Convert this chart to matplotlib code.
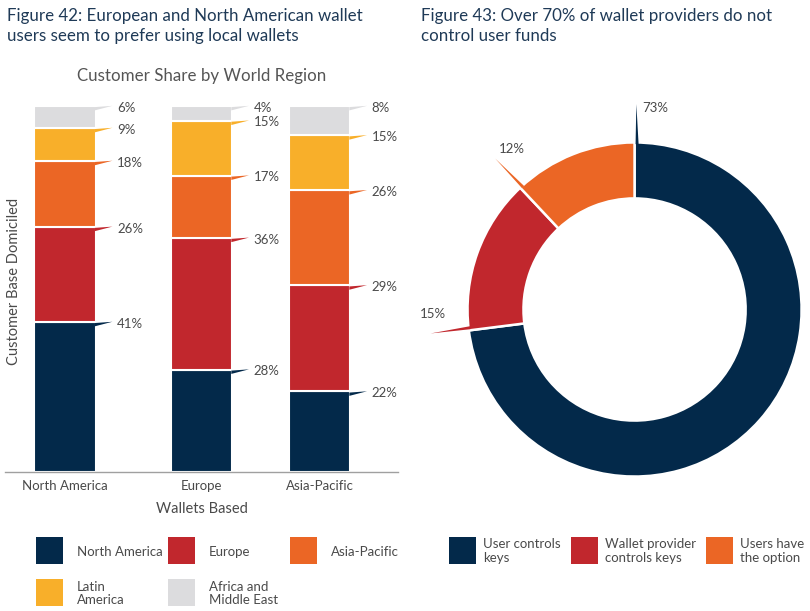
import numpy as np
import matplotlib
matplotlib.use("Agg")
import matplotlib.pyplot as plt
from matplotlib.patches import Rectangle, Polygon

plt.rcParams['font.family'] = ['Lato', 'DejaVu Sans']

# ---- data ----
wallet_regions = ['North America', 'Europe', 'Asia-Pacific']
domicile_names = ['North America', 'Europe', 'Asia-Pacific', 'Latin\nAmerica', 'Africa and\nMiddle East']
north_america = [41, 28, 22]
europe = [26, 36, 29]
asia_pacific = [18, 17, 26]
latin_america = [9, 15, 15]
africa_me = [6, 4, 8]

control_labels = ['User controls\nkeys', 'Wallet provider\ncontrols keys', 'Users have\nthe option']
control_share = [73, 15, 12]

NAVY = '#03294A'
RED = '#C1272D'
ORANGE = '#EB6625'
YELLOW = '#F8AF2A'
GREY = '#DCDCDE'
TXT = '#4A4A4A'
TITLE = '#1F3A57'

W, H = 810, 611
fig = plt.figure(figsize=(W / 100, H / 100), dpi=100)


def fx(px):
    return px / W


def fy(py):
    return 1 - py / H


# titles
fig.text(fx(7), fy(26), 'Figure 42: European and North American wallet\nusers seem to prefer using local wallets',
         fontsize=12.2, color=TITLE, ha='left', va='center', linespacing=1.38)
fig.text(fx(421), fy(26), 'Figure 43: Over 70% of wallet providers do not\ncontrol user funds',
         fontsize=12.2, color=TITLE, ha='left', va='center', linespacing=1.38)

# ---- stacked bars ----
ax = fig.add_axes([fx(5), 139 / H, 393 / W, 366 / H])
series = [north_america, europe, asia_pacific, latin_america, africa_me]
colors = [NAVY, RED, ORANGE, YELLOW, GREY]
xpos = np.array([0, 1.157, 2.157])
bw = 0.525
bottom = np.zeros(3)
for vals, col in zip(series, colors):
    vals = np.array(vals, dtype=float)
    ax.bar(xpos, vals, bw, bottom=bottom, color=col, edgecolor='white', linewidth=1.5, zorder=2)
    tops = bottom + vals
    for x, t, v in zip(xpos, tops, vals):
        right = x + bw / 2
        spike = Polygon([(right - 0.01, t - 0.3), (right - 0.01, t - 1.2), (right + 0.14, t + 0.05)],
                        closed=True, color=col, lw=0, zorder=3, clip_on=False)
        ax.add_patch(spike)
        ax.text(right + 0.178, t - 0.5, f'{v:.0f}%', fontsize=9.5, color=TXT, ha='left', va='center')
    bottom = tops

ax.set_xlim(-0.508, 2.822)
ax.set_ylim(0, 100)
ax.set_yticks([])
ax.set_xticks(xpos)
ax.set_xticklabels(wallet_regions, fontsize=9.5, color=TXT)
ax.tick_params(axis='x', length=0, pad=6)
for s in ['top', 'right', 'left']:
    ax.spines[s].set_visible(False)
ax.spines['bottom'].set_color('#A0A0A0')
ax.spines['bottom'].set_linewidth(1)
ax.set_xlabel('Wallets Based', fontsize=10.5, color=TXT, labelpad=7)
ax.set_title('Customer Share by World Region', fontsize=12.2, color='#555555', pad=18)
fig.text(fx(14), fy(281), 'Customer Base Domiciled', rotation=90, fontsize=10.5, color=TXT,
         ha='center', va='center')

# left legend
leg_pos = [(36, 537), (168, 537), (290, 537), (36, 579), (168, 579)]
for (lx, ly), name, col in zip(leg_pos, domicile_names, colors):
    fig.add_artist(Rectangle((fx(lx), fy(ly + 27)), 27 / W, 27 / H, transform=fig.transFigure,
                             facecolor=col, edgecolor='none'))
    fig.text(fx(lx + 41), fy(ly + 14.5), name, fontsize=9.5, color=TXT, ha='left', va='center',
             linespacing=1.15)

# ---- donut ----
ax2 = fig.add_axes([fx(409), 76 / H, 401 / W, 451 / H])
dcolors = [NAVY, RED, ORANGE]
ax2.pie(control_share, colors=dcolors, startangle=90, counterclock=False, radius=1,
        wedgeprops=dict(width=0.335, edgecolor='white', linewidth=1.8))
ax2.set_xlim(-1.35, 1.05)
ax2.set_ylim(-1.35, 1.35)
ax2.set_aspect('equal')

starts = 90 - np.concatenate([[0], np.cumsum(control_share)[:-1]]) / sum(control_share) * 360
for th, v, col in zip(starts, control_share, dcolors):
    a1, a2, at = np.radians([th - 0.35, th - 1.4, th - 0.5])
    spike = Polygon([(0.99 * np.cos(a1), 0.99 * np.sin(a1)),
                     (0.99 * np.cos(a2), 0.99 * np.sin(a2)),
                     (1.23 * np.cos(at), 1.23 * np.sin(at))],
                    closed=True, color=col, lw=0, zorder=3)
    ax2.add_patch(spike)
    al = np.radians(th - 6)
    ax2.text(1.21 * np.cos(al), 1.21 * np.sin(al), f'{v}%', fontsize=9.5, color=TXT,
             ha='center', va='center')

# right legend
leg2_x = [449, 571, 706]
for lx, name, col in zip(leg2_x, control_labels, dcolors):
    fig.add_artist(Rectangle((fx(lx), fy(564)), 27 / W, 27 / H, transform=fig.transFigure,
                             facecolor=col, edgecolor='none'))
    fig.text(fx(lx + 34), fy(551), name, fontsize=9.5, color=TXT, ha='left', va='center',
             linespacing=1.1)

fig.savefig('out.png', dpi=100)
